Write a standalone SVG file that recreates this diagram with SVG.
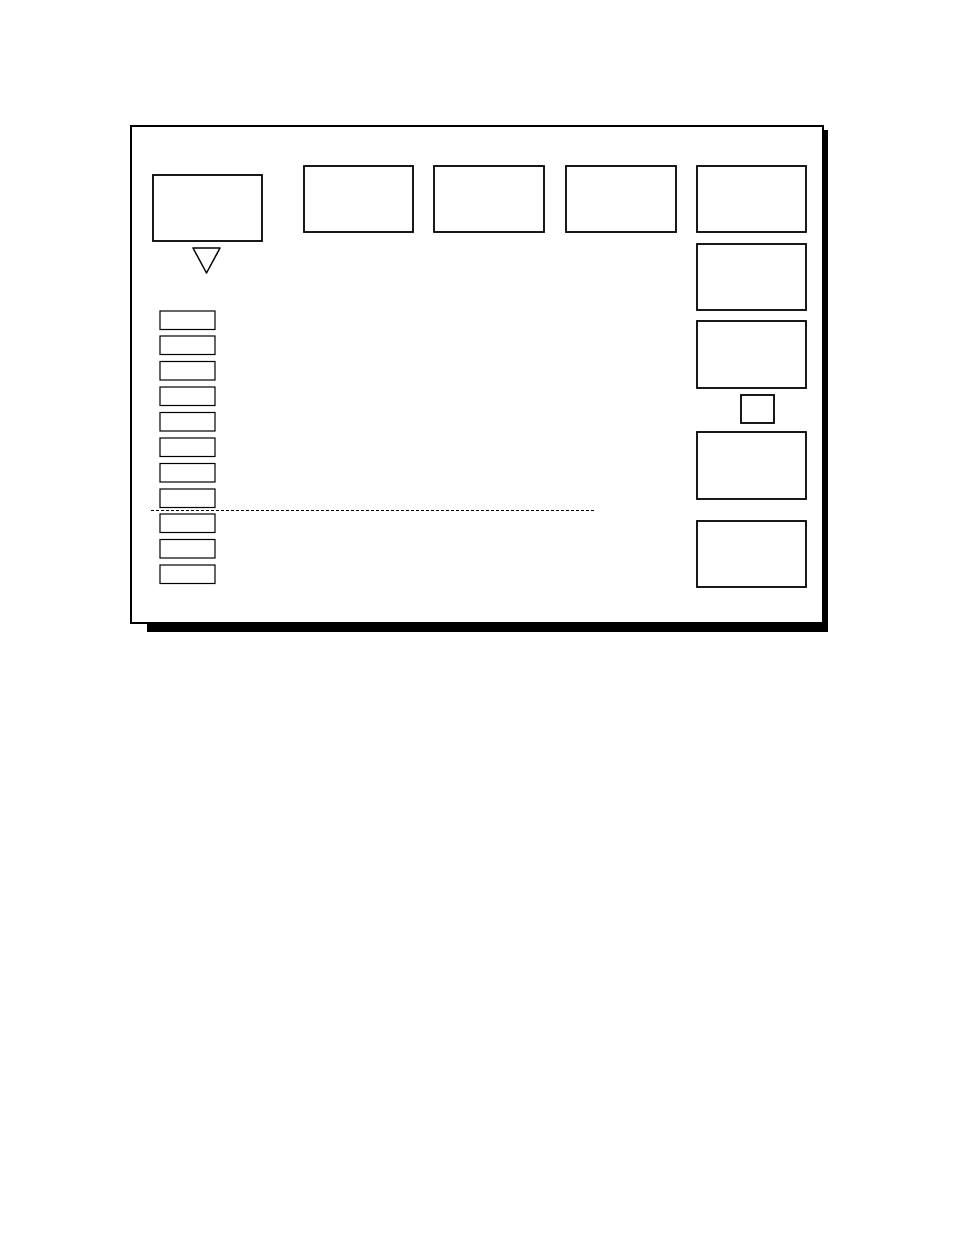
<svg xmlns="http://www.w3.org/2000/svg" width="954" height="1235" viewBox="0 0 954 1235">
<style>
.frame{fill:#fff;stroke:#000;stroke-width:2}
.shadow{fill:#000;stroke:none}
.box{fill:#fff;stroke:#000;stroke-width:1.8}
.small{fill:#fff;stroke:#000;stroke-width:1.2}
.dash{stroke:#000;stroke-width:1;stroke-dasharray:3 2;fill:none}
</style>
<rect width="954" height="1235" fill="#fff"/>
<g id="panel">
<rect class="shadow" x="147" y="130" width="681" height="502"/>
<rect class="frame" x="131" y="126" width="692" height="497"/>
</g>
<g id="display-box"><rect class="box" x="153" y="175" width="109" height="66"/></g>
<g id="indicator"><polygon points="193,248 220,248 206.5,273" fill="#fff" stroke="#000" stroke-width="1.5" stroke-linejoin="round"/></g>
<g id="top-box-1"><rect class="box" x="304" y="166" width="109" height="66"/></g>
<g id="top-box-2"><rect class="box" x="434" y="166" width="110" height="66"/></g>
<g id="top-box-3"><rect class="box" x="566" y="166" width="110" height="66"/></g>
<g id="right-box-1"><rect class="box" x="697" y="166" width="109" height="66"/></g>
<g id="right-box-2"><rect class="box" x="697" y="244" width="109" height="66"/></g>
<g id="right-box-3"><rect class="box" x="697" y="321" width="109" height="67"/></g>
<g id="small-square"><rect class="box" x="741" y="395" width="33" height="28"/></g>
<g id="right-box-4"><rect class="box" x="697" y="432" width="109" height="67"/></g>
<g id="right-box-5"><rect class="box" x="697" y="521" width="109" height="66"/></g>
<g id="list-1"><rect class="small" x="160" y="311" width="55" height="18.5"/></g>
<g id="list-2"><rect class="small" x="160" y="336" width="55" height="18.5"/></g>
<g id="list-3"><rect class="small" x="160" y="361.5" width="55" height="18.5"/></g>
<g id="list-4"><rect class="small" x="160" y="387" width="55" height="18.5"/></g>
<g id="list-5"><rect class="small" x="160" y="412.5" width="55" height="18.5"/></g>
<g id="list-6"><rect class="small" x="160" y="438" width="55" height="18.5"/></g>
<g id="list-7"><rect class="small" x="160" y="463.5" width="55" height="18.5"/></g>
<g id="list-8"><rect class="small" x="160" y="489" width="55" height="18.5"/></g>
<g id="list-9"><rect class="small" x="160" y="514" width="55" height="18.5"/></g>
<g id="list-10"><rect class="small" x="160" y="539.5" width="55" height="18.5"/></g>
<g id="list-11"><rect class="small" x="160" y="565" width="55" height="18.5"/></g>
<g id="connectors">
<line class="dash" x1="151" y1="510.5" x2="595" y2="510.5"/>
</g>
</svg>
